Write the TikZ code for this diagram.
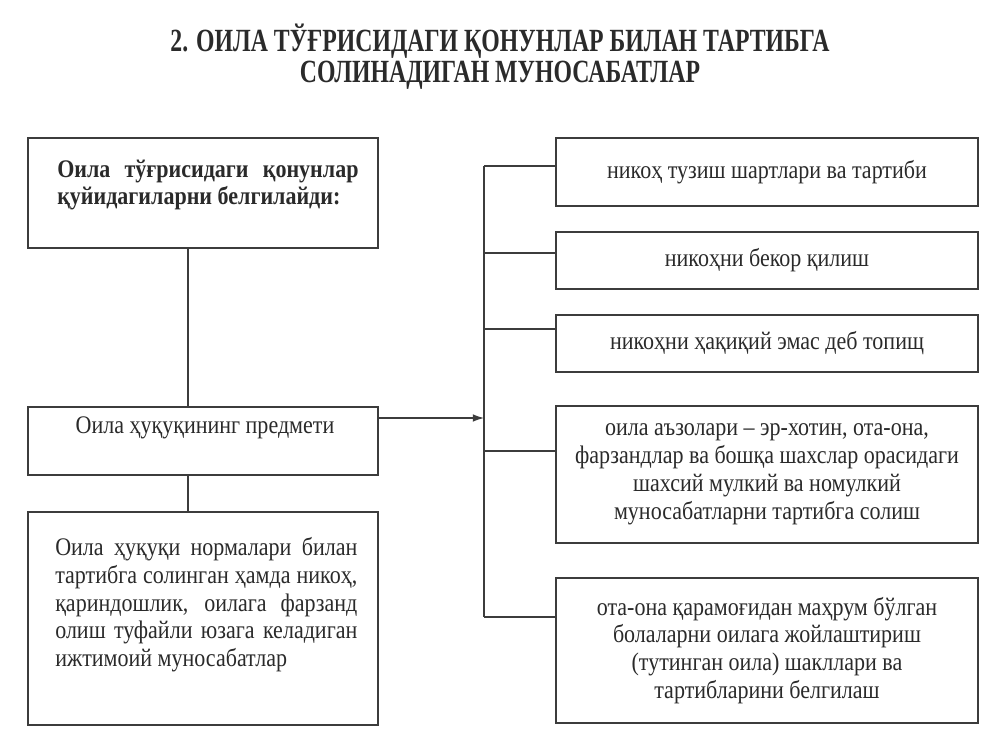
\documentclass[tikz,border=0pt]{standalone}
\usepackage{fontspec}
\setmainfont{Liberation Serif}[FakeStretch=0.87]
\newfontfamily\titlefont{Liberation Serif}[FakeStretch=0.735]
\usetikzlibrary{arrows.meta}
\definecolor{ink}{HTML}{2A2A2A}
\definecolor{frame}{HTML}{3C3C3C}

\begin{document}
\begin{tikzpicture}[x=0.025cm,y=-0.025cm,
  every node/.style={font=\fontsize{18}{19.8}\selectfont,color=ink,inner sep=0pt},
  box/.style={draw=frame,line width=0.9pt},
  lbox/.style={box,minimum width=8.75cm},
  rbox/.style={box,minimum width=10.55cm,align=center},
  title/.style={font=\titlefont\fontsize{23}{28}\selectfont\bfseries},
  wire/.style={draw=frame,line width=0.8pt}]
\useasboundingbox (0,0) rectangle (1000,750);
% sarlavha
\node[title] (sarlavha1) at (500,41) {2. ОИЛА ТЎҒРИСИДАГИ ҚОНУНЛАР БИЛАН ТАРТИБГА};
\node[title] (sarlavha2) at (500,75) {СОЛИНАДИГАН МУНОСАБАТЛАР};
% chap ustun
\node[lbox,minimum height=2.75cm] (qonun) at (203,193) {};
\node[anchor=north west,text width=7.53cm,align=justify,font=\fontsize{18}{19.2}\selectfont\bfseries] (qonunmatn) at (57,160)
  {Оила тўғрисидаги қонунлар\linebreak қуйидагиларни белгилайди:};
\node[lbox,minimum height=1.7cm] (predmet) at (203,441) {};
\node (predmetmatn) at (205,428) {Оила ҳуқуқининг предмети};
\node[lbox,minimum height=5.325cm] (munosabat) at (203,618.5) {};
\node[anchor=north west,text width=7.55cm,align=justify] (munosabatmatn) at (55,537)
  {Оила ҳуқуқи нормалари билан\linebreak тартибга солинган ҳамда никоҳ,\linebreak қариндошлик, оилага фарзанд\linebreak олиш туфайли юзага келадиган\linebreak ижтимоий муносабатлар};
% ong ustun
\node[rbox,minimum height=1.7cm] (nikoh) at (767,172) {никоҳ тузиш шартлари ва тартиби};
\node[rbox,minimum height=1.425cm] (bekor) at (767,260.5) {никоҳни бекор қилиш};
\node[rbox,minimum height=1.425cm] (haqiqiy) at (767,343.5) {никоҳни ҳақиқий эмас деб топищ};
\node[rbox,minimum height=3.425cm] (azolar) at (767,474.5)
  {оила аъзолари -- эр-хотин, ота-она,\\ фарзандлар ва бошқа шахслар орасидаги\\ шахсий мулкий ва номулкий\\ муносабатларни тартибга солиш};
\node[rbox,minimum height=3.625cm] (bolalar) at (767,650.5)
  {ота-она қарамоғидан маҳрум бўлган\\ болаларни оилага жойлаштириш\\ (тутинган оила) шакллари ва\\ тартибларини белгилаш};
% ulanishlar
\coordinate (spine) at (188,0);
\coordinate (shina) at (484,418);
\coordinate (b1) at (484,166);
\coordinate (b2) at (484,253);
\coordinate (b3) at (484,329);
\coordinate (b4) at (484,451);
\coordinate (b5) at (484,617);
\draw[wire] (qonun.south -| spine) -- (predmet.north -| spine);
\draw[wire] (predmet.south -| spine) -- (munosabat.north -| spine);
\draw[wire] (b1) -- (b5);
\draw[wire,-{Latex[length=8pt,width=5.5pt]}] (predmet.east |- shina) -- (shina);
\foreach \b/\n in {b1/nikoh,b2/bekor,b3/haqiqiy,b4/azolar,b5/bolalar}
  \draw[wire] (\b) -- (\b -| \n.west);
\end{tikzpicture}
\end{document}
